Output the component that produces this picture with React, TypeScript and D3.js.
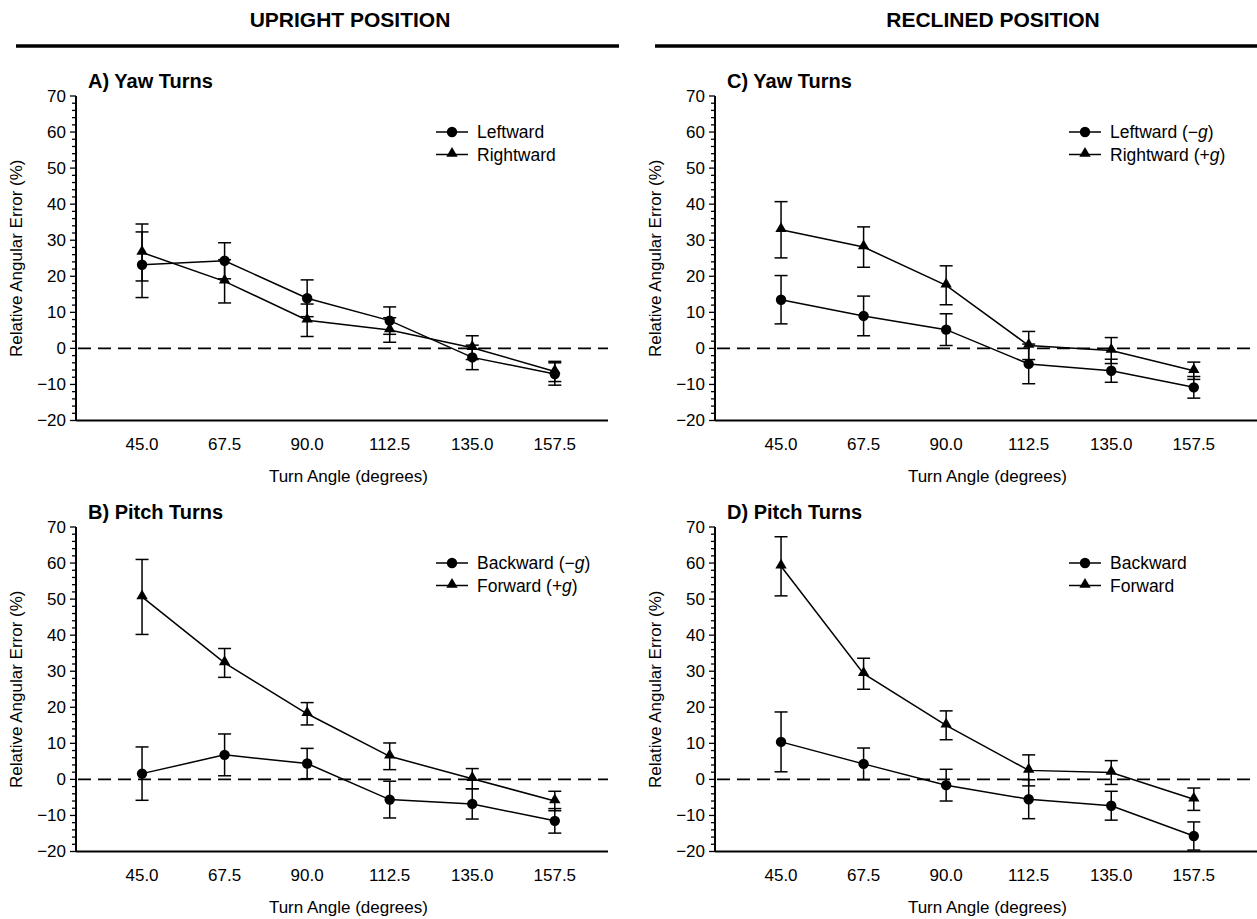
import React, { useEffect, useRef } from "react";
import * as d3 from "d3";

// --- data ---
const angles = [45, 67.5, 90, 112.5, 135, 157.5];
const yTicks = [-20, -10, 0, 10, 20, 30, 40, 50, 60, 70];

const yawUprightLeft = [23.2, 24.3, 13.9, 7.7, -2.5, -7.1];
const yawUprightLeftErr = [9.1, 5.0, 5.1, 3.8, 3.4, 3.1];
const yawUprightRight = [26.6, 18.6, 7.8, 5.1, 0.2, -6.4];
const yawUprightRightErr = [7.9, 6.0, 4.5, 3.4, 3.3, 2.8];

const pitchUprightBack = [1.6, 6.8, 4.4, -5.6, -6.8, -11.5];
const pitchUprightBackErr = [7.4, 5.8, 4.2, 5.1, 4.2, 3.4];
const pitchUprightFwd = [50.6, 32.3, 18.2, 6.4, 0.2, -6.0];
const pitchUprightFwdErr = [10.4, 4.0, 3.1, 3.7, 2.8, 2.7];

const yawReclinedLeft = [13.5, 9.0, 5.2, -4.3, -6.2, -10.8];
const yawReclinedLeftErr = [6.7, 5.5, 4.4, 5.5, 3.2, 3.0];
const yawReclinedRight = [32.9, 28.1, 17.5, 0.8, -0.6, -6.2];
const yawReclinedRightErr = [7.8, 5.6, 5.4, 3.9, 3.6, 2.4];

const pitchReclinedBack = [10.4, 4.3, -1.6, -5.5, -7.3, -15.7];
const pitchReclinedBackErr = [8.3, 4.4, 4.4, 5.4, 4.0, 3.9];
const pitchReclinedFwd = [59.1, 29.3, 15.0, 2.5, 1.9, -5.5];
const pitchReclinedFwdErr = [8.2, 4.3, 4.0, 4.3, 3.3, 3.1];

const FONT = "'Liberation Sans', Arial, Helvetica, sans-serif";

type Series = { name: string; g?: string; values: number[]; err: number[]; shape: "circle" | "triangle" };
type Panel = { title: string; ox: number; oy: number; xEnd: number; series: Series[] };

const panels: Panel[] = [
  {
    title: "A) Yaw Turns", ox: 76, oy: 96, xEnd: 608,
    series: [
      { name: "Leftward", values: yawUprightLeft, err: yawUprightLeftErr, shape: "circle" },
      { name: "Rightward", values: yawUprightRight, err: yawUprightRightErr, shape: "triangle" },
    ],
  },
  {
    title: "B) Pitch Turns", ox: 76, oy: 527, xEnd: 608,
    series: [
      { name: "Backward (", g: "\u2212", values: pitchUprightBack, err: pitchUprightBackErr, shape: "circle" },
      { name: "Forward (", g: "+", values: pitchUprightFwd, err: pitchUprightFwdErr, shape: "triangle" },
    ],
  },
  {
    title: "C) Yaw Turns", ox: 715, oy: 96, xEnd: 1257,
    series: [
      { name: "Leftward (", g: "\u2212", values: yawReclinedLeft, err: yawReclinedLeftErr, shape: "circle" },
      { name: "Rightward (", g: "+", values: yawReclinedRight, err: yawReclinedRightErr, shape: "triangle" },
    ],
  },
  {
    title: "D) Pitch Turns", ox: 715, oy: 527, xEnd: 1257,
    series: [
      { name: "Backward", values: pitchReclinedBack, err: pitchReclinedBackErr, shape: "circle" },
      { name: "Forward", values: pitchReclinedFwd, err: pitchReclinedFwdErr, shape: "triangle" },
    ],
  },
];

export default function App() {
  const svgRef = useRef<SVGSVGElement | null>(null);

  useEffect(() => {
    const width = 1257;
    const height = 919;
    const svg = d3.select(svgRef.current).attr("width", width).attr("height", height);
    svg.selectAll("*").remove();
    svg.append("rect").attr("width", width).attr("height", height).attr("fill", "#fff");

    // --- headers ---
    const headers = [
      { label: "UPRIGHT POSITION", cx: 350, x1: 16, x2: 619 },
      { label: "RECLINED POSITION", cx: 993, x1: 655, x2: 1257 },
    ];
    headers.forEach(h => {
      svg.append("text")
        .attr("x", h.cx).attr("y", 27)
        .attr("text-anchor", "middle")
        .attr("font-family", FONT).attr("font-weight", "bold").attr("font-size", 21)
        .text(h.label);
      svg.append("line")
        .attr("x1", h.x1).attr("x2", h.x2).attr("y1", 46).attr("y2", 46)
        .attr("stroke", "#000").attr("stroke-width", 3.5);
    });

    const triangle = d3.symbol().type(d3.symbolTriangle).size(56);

    panels.forEach(p => {
      const g = svg.append("g").attr("transform", `translate(${p.ox},${p.oy})`);
      const plotH = 324.5;
      const x = d3.scaleLinear().domain([27, 172]).range([0, 532]);
      const y = d3.scaleLinear().domain([-20, 70]).range([plotH, 0]);
      const xMax = p.xEnd - p.ox;

      // title
      g.append("text")
        .attr("x", 12).attr("y", -8)
        .attr("font-family", FONT).attr("font-weight", "bold").attr("font-size", 20)
        .text(p.title);

      // y axis with minor ticks
      const yAxis = g.append("g");
      yAxis.append("line").attr("x1", 0).attr("x2", 0).attr("y1", 0).attr("y2", plotH)
        .attr("stroke", "#000").attr("stroke-width", 2);
      d3.range(-20, 71, 2).forEach(v => {
        const major = v % 10 === 0;
        yAxis.append("line")
          .attr("x1", major ? -6 : -4).attr("x2", 0)
          .attr("y1", y(v)).attr("y2", y(v))
          .attr("stroke", "#000").attr("stroke-width", 1.3);
      });
      yTicks.forEach(v => {
        yAxis.append("text")
          .attr("x", -10).attr("y", y(v)).attr("dy", "0.35em")
          .attr("text-anchor", "end")
          .attr("font-family", FONT).attr("font-size", 17)
          .text(v < 0 ? `\u2212${Math.abs(v)}` : `${v}`);
      });
      g.append("text")
        .attr("transform", `translate(-54,${plotH / 2}) rotate(-90)`)
        .attr("text-anchor", "middle")
        .attr("font-family", FONT).attr("font-size", 17)
        .text("Relative Angular Error (%)");

      // x axis (no ticks)
      g.append("line").attr("x1", 0).attr("x2", xMax).attr("y1", plotH).attr("y2", plotH)
        .attr("stroke", "#000").attr("stroke-width", 2);
      angles.forEach(a => {
        g.append("text")
          .attr("x", x(a)).attr("y", plotH + 29)
          .attr("text-anchor", "middle")
          .attr("font-family", FONT).attr("font-size", 17)
          .text(a.toFixed(1));
      });
      g.append("text")
        .attr("x", x(101.25)).attr("y", plotH + 61)
        .attr("text-anchor", "middle")
        .attr("font-family", FONT).attr("font-size", 17)
        .text("Turn Angle (degrees)");

      // zero reference
      g.append("line").attr("x1", 2).attr("x2", xMax).attr("y1", y(0)).attr("y2", y(0))
        .attr("stroke", "#000").attr("stroke-width", 1.8).attr("stroke-dasharray", "13,7");

      const line = d3.line<number>().x((d, i) => x(angles[i])).y(d => y(d));

      p.series.forEach(s => {
        // error bars
        s.values.forEach((v, i) => {
          const cx = x(angles[i]);
          const lo = y(v - s.err[i]);
          const hi = y(v + s.err[i]);
          g.append("line").attr("x1", cx).attr("x2", cx).attr("y1", lo).attr("y2", hi)
            .attr("stroke", "#000").attr("stroke-width", 1.5);
          [lo, hi].forEach(yy => {
            g.append("line").attr("x1", cx - 6.5).attr("x2", cx + 6.5).attr("y1", yy).attr("y2", yy)
              .attr("stroke", "#000").attr("stroke-width", 1.5);
          });
        });
        g.append("path").datum(s.values).attr("d", line)
          .attr("fill", "none").attr("stroke", "#000").attr("stroke-width", 1.5);
      });

      p.series.forEach(s => {
        s.values.forEach((v, i) => {
          if (s.shape === "circle") {
            g.append("circle").attr("cx", x(angles[i])).attr("cy", y(v)).attr("r", 5.2).attr("fill", "#000");
          } else {
            g.append("path").attr("d", triangle)
              .attr("transform", `translate(${x(angles[i])},${y(v) - 1})`).attr("fill", "#000");
          }
        });
      });

      // legend
      const lx = p.ox < 700 ? 360 : 354;
      p.series.forEach((s, i) => {
        const ly = 36 + i * 22.5;
        g.append("line").attr("x1", lx).attr("x2", lx + 32).attr("y1", ly).attr("y2", ly)
          .attr("stroke", "#000").attr("stroke-width", 1.5);
        if (s.shape === "circle") {
          g.append("circle").attr("cx", lx + 16).attr("cy", ly).attr("r", 5.2).attr("fill", "#000");
        } else {
          g.append("path").attr("d", triangle).attr("transform", `translate(${lx + 16},${ly - 1})`).attr("fill", "#000");
        }
        const t = g.append("text")
          .attr("x", lx + 41).attr("y", ly).attr("dy", "0.35em")
          .attr("font-family", FONT).attr("font-size", 17.5);
        t.append("tspan").text(s.name);
        if (s.g) {
          t.append("tspan").text(s.g);
          t.append("tspan").attr("font-style", "italic").text("g");
          t.append("tspan").text(")");
        }
      });
    });
  }, []);

  return <svg ref={svgRef} style={{ position: "absolute", left: 0, top: 0, display: "block" }}></svg>;
}
